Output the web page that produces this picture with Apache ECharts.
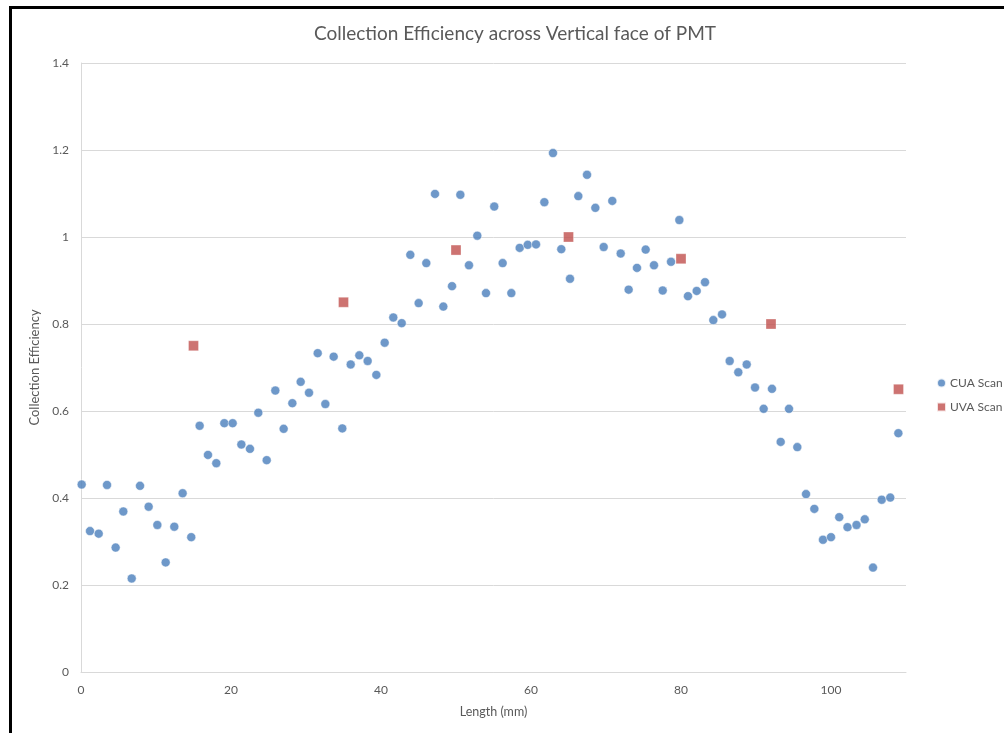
<!DOCTYPE html>
<html>
<head>
<meta charset="utf-8">
<script src="https://cdn.jsdelivr.net/npm/echarts@6/dist/echarts.min.js"></script>
<style>
html,body{margin:0;padding:0;background:#fff;}
#c{position:absolute;left:0;top:0;width:1004px;height:733px;}
#frame{position:absolute;left:9px;top:6px;width:1000px;height:740px;border-left:3px solid #000;border-top:3px solid #000;pointer-events:none;}
</style>
</head>
<body>
<div id="c"></div>
<div id="frame"></div>
<script>
const titleText = 'Collection Efficiency across Vertical face of PMT';
const xAxisName = 'Length (mm)';
const yAxisName = 'Collection Efficiency';
const seriesNames = ['CUA Scan', 'UVA Scan'];

const cuaX = [0.09,1.2,2.36,3.47,4.62,5.64,6.76,7.87,9.02,10.18,11.29,12.44,13.55,14.7,15.82,16.93,18.04,19.11,20.22,21.38,22.53,23.64,24.76,25.91,27.02,28.18,29.29,30.4,31.56,32.58,33.69,34.84,35.96,37.11,38.22,39.38,40.49,41.64,42.76,43.91,45.02,46.04,47.2,48.31,49.47,50.58,51.73,52.84,54,55.1,56.22,57.38,58.49,59.56,60.67,61.78,62.93,64.04,65.2,66.31,67.47,68.58,69.69,70.84,71.96,73.02,74.13,75.29,76.4,77.56,78.67,79.78,80.93,82.09,83.2,84.31,85.47,86.49,87.64,88.76,89.87,91.02,92.13,93.29,94.4,95.51,96.67,97.78,98.93,100,101.1,102.2,103.4,104.5,105.6,106.76,107.9,108.98];
const cuaY = [0.431,0.324,0.318,0.430,0.286,0.369,0.215,0.428,0.380,0.338,0.252,0.334,0.411,0.310,0.566,0.499,0.480,0.572,0.572,0.523,0.513,0.596,0.487,0.647,0.559,0.618,0.667,0.642,0.733,0.616,0.725,0.560,0.707,0.728,0.715,0.683,0.757,0.815,0.802,0.959,0.848,0.940,1.099,0.840,0.887,1.097,0.935,1.003,0.871,1.070,0.940,0.871,0.975,0.982,0.983,1.080,1.193,0.972,0.904,1.094,1.143,1.067,0.977,1.083,0.962,0.879,0.929,0.971,0.935,0.877,0.943,1.039,0.864,0.876,0.896,0.809,0.822,0.715,0.689,0.707,0.654,0.605,0.651,0.529,0.605,0.517,0.409,0.375,0.304,0.310,0.356,0.333,0.338,0.351,0.240,0.396,0.401,0.549];

const uvaX = [15,35,50,65,80,92,109];
const uvaY = [0.75,0.85,0.97,1.0,0.95,0.80,0.65];

const xTicks = [0,20,40,60,80,100];
const yTicks = [0,0.2,0.4,0.6,0.8,1,1.2,1.4];

const FONT = 'Lato, "Open Sans", sans-serif';
const GRAY = '#595959';
const LINE = '#d9d9d9';

const chart = echarts.init(document.getElementById('c'), null, {renderer:'canvas'});
chart.setOption({
  animation:false,
  backgroundColor:'#fff',
  textStyle:{fontFamily:FONT},
  title:{
    text:titleText, left:309, top:19,
    textStyle:{fontFamily:FONT, fontSize:19, fontWeight:'normal', color:GRAY}
  },
  legend:{
    orient:'vertical', left:931, top:372, itemWidth:9, itemHeight:9, itemGap:12,
    textStyle:{fontFamily:FONT, fontSize:12, color:GRAY, padding:[0,0,0,-1]},
    data:[{name:seriesNames[0], icon:'circle'},{name:seriesNames[1], icon:'rect'}]
  },
  grid:{left:81, right:98, top:63, bottom:61, containLabel:false},
  xAxis:{
    type:'value', min:xTicks[0], max:110, interval:20,
    name:xAxisName, nameLocation:'middle', nameGap:33,
    nameTextStyle:{fontFamily:FONT, fontSize:12.5, color:GRAY},
    axisLine:{show:true, lineStyle:{color:LINE, width:1}},
    axisTick:{show:false},
    axisLabel:{fontFamily:FONT, fontSize:12, color:GRAY, margin:12, showMaxLabel:false,
      formatter:v => xTicks.indexOf(v) >= 0 ? String(v) : ''},
    splitLine:{show:false}
  },
  yAxis:{
    type:'value', min:yTicks[0], max:yTicks[yTicks.length-1], interval:0.2,
    name:yAxisName, nameLocation:'middle', nameGap:31,
    nameTextStyle:{fontFamily:FONT, fontSize:13, color:GRAY},
    axisLine:{show:true, lineStyle:{color:LINE, width:1}},
    axisTick:{show:false},
    axisLabel:{fontFamily:FONT, fontSize:12, color:GRAY, margin:12,
      formatter:v => String(Math.round(v*10)/10)},
    splitLine:{show:true, lineStyle:{color:LINE, width:1}}
  },
  series:[
    {
      name:seriesNames[0], type:'scatter', symbol:'circle', symbolSize:9,
      itemStyle:{color:'#4a7ebb', borderColor:'#fff', borderWidth:0.6},
      data:cuaX.map((x,i)=>[x,cuaY[i]])
    },
    {
      name:seriesNames[1], type:'scatter', symbol:'rect', symbolSize:10,
      itemStyle:{color:'#c0504d', borderColor:'#fff', borderWidth:0.4},
      data:uvaX.map((x,i)=>[x,uvaY[i]])
    }
  ]
});
</script>
</body>
</html>
